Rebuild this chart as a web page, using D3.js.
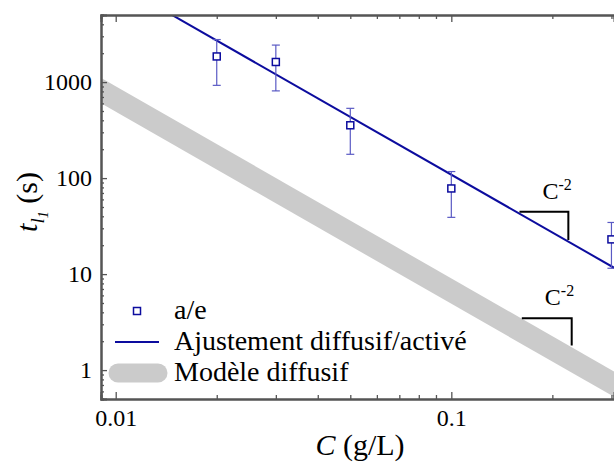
<!DOCTYPE html>
<html>
<head>
<meta charset="utf-8">
<script src="https://cdn.jsdelivr.net/npm/d3@7"></script>
<style>
  html, body { margin: 0; padding: 0; background: #fff; }
  svg { display: block; font-family: "Liberation Serif", "Times New Roman", serif; }
</style>
</head>
<body>
<svg id="chart" width="614" height="469"></svg>
<script>
(function() {
  'use strict';

  // Measured points (a/e)
  const concentrations = [0.02, 0.03, 0.05, 0.1, 0.3];
  const lifetimes = [1850, 1620, 355, 78, 23];
  const lifetimeErrors = [925, 810, 178, 39, 11.5];

  // Fitted line (diffusive/activated) and diffusive model, end points
  const fitC = [0.0147, 0.31];
  const fitT = [5016, 11.3];
  const modelC = [0.0088, 0.32];
  const modelT = [861, 0.65];

  // Slope guides: [C start, C end, t top, t bottom]
  const slopeFit = [0.1596, 0.2232, 44.6, 22.6];
  const slopeModel = [0.1622, 0.2284, 3.46, 1.8];

  const xMajorTicks = [0.01, 0.1];
  const yMajorTicks = [1, 10, 100, 1000];
  const xTickLabels = ['0.01', '0.1'];
  const yTickLabels = ['1', '10', '100', '1000'];

  const legendLabels = ['a/e', 'Ajustement diffusif/activé', 'Modèle diffusif'];

  const blue = '#0c0c9e';
  const errBlue = '#5a5ac4';
  const grey = '#cbcbcb';
  const axisCol = '#555';
  const serif = '"Liberation Serif", "Times New Roman", serif';

  const left = 101, right = 614, top = 15, bottom = 399;

  const svg = d3.select('#chart');

  const x = d3.scaleLog().domain([0.00904, 0.3053]).range([left, right]);
  const y = d3.scaleLog().domain([0.5, 5000]).range([bottom, top]);

  svg.append('defs').append('clipPath')
    .attr('id', 'plot-clip')
    .append('rect')
    .attr('x', left).attr('y', top)
    .attr('width', right - left).attr('height', bottom - top);

  const plot = svg.append('g').attr('clip-path', 'url(#plot-clip)');
  const line = d3.line().x(d => x(d[0])).y(d => y(d[1]));

  // Diffusive model band
  plot.append('path')
    .attr('d', line(d3.zip(modelC, modelT)))
    .attr('fill', 'none')
    .attr('stroke', grey)
    .attr('stroke-width', 22);

  // Fit line
  plot.append('path')
    .attr('d', line(d3.zip(fitC, fitT)))
    .attr('fill', 'none')
    .attr('stroke', blue)
    .attr('stroke-width', 2);

  // Error bars
  const pts = concentrations.map((c, i) => ({ c, t: lifetimes[i], e: lifetimeErrors[i] }));
  const eb = plot.append('g')
    .attr('stroke', errBlue)
    .attr('stroke-width', 1.2)
    .attr('fill', 'none');
  pts.forEach(p => {
    const cx = x(p.c);
    const y1 = y(p.t + p.e), y2 = y(p.t - p.e);
    eb.append('line').attr('x1', cx).attr('x2', cx).attr('y1', y1).attr('y2', y2);
    eb.append('line').attr('x1', cx - 4).attr('x2', cx + 4).attr('y1', y1).attr('y2', y1);
    eb.append('line').attr('x1', cx - 4).attr('x2', cx + 4).attr('y1', y2).attr('y2', y2);
  });

  // Markers
  plot.selectAll('rect.pt')
    .data(pts)
    .enter()
    .append('rect')
    .attr('class', 'pt')
    .attr('x', d => x(d.c) - 3.5)
    .attr('y', d => y(d.t) - 3.5)
    .attr('width', 7).attr('height', 7)
    .attr('fill', '#fff')
    .attr('stroke', blue)
    .attr('stroke-width', 1.5);

  // Slope guides
  function slopeGuide(s) {
    const x1 = x(s[0]), x2 = x(s[1]), yt = y(s[2]), yb = y(s[3]);
    svg.append('path')
      .attr('d', `M${x1},${yt}H${x2}V${yb}`)
      .attr('fill', 'none')
      .attr('stroke', '#000')
      .attr('stroke-width', 2);
    const t = svg.append('text')
      .attr('x', x1 + 23)
      .attr('y', yt - 13)
      .attr('font-size', 24);
    t.append('tspan').text('C');
    t.append('tspan').attr('font-size', 16).attr('dy', -9).text('-2');
  }
  slopeGuide(slopeFit);
  slopeGuide(slopeModel);

  // Axes
  const yMinor = y.ticks().filter(v => !yMajorTicks.includes(v));
  const xMinor = x.ticks().filter(v => !xMajorTicks.includes(v));

  function styleAxis(g) {
    g.attr('font-family', serif);
    g.select('.domain').attr('stroke', axisCol).attr('stroke-width', 2);
    g.selectAll('.tick line').attr('stroke', axisCol).attr('stroke-width', 1.3);
    g.selectAll('.tick text')
      .attr('fill', '#000')
      .attr('font-size', 24)
      .attr('font-family', serif);
  }

  svg.append('g')
    .attr('transform', `translate(${left},0)`)
    .call(d3.axisLeft(y).tickValues(yMinor).tickSize(-3).tickFormat(''))
    .call(styleAxis);
  svg.append('g')
    .attr('transform', `translate(${left},0)`)
    .call(d3.axisLeft(y).tickValues(yMajorTicks).tickSize(-6).tickPadding(9)
      .tickFormat((d, i) => yTickLabels[i]))
    .call(styleAxis);

  svg.append('g')
    .attr('transform', `translate(0,${bottom})`)
    .call(d3.axisBottom(x).tickValues(xMinor).tickSize(-4).tickFormat(''))
    .call(styleAxis);
  svg.append('g')
    .attr('transform', `translate(0,${bottom})`)
    .call(d3.axisBottom(x).tickValues(xMajorTicks).tickSize(-7).tickPadding(10)
      .tickFormat((d, i) => xTickLabels[i]))
    .call(styleAxis);

  svg.append('g')
    .attr('transform', `translate(0,${top})`)
    .call(d3.axisTop(x).tickValues(xMinor).tickSize(-4).tickFormat(''))
    .call(styleAxis);
  svg.append('g')
    .attr('transform', `translate(0,${top})`)
    .call(d3.axisTop(x).tickValues(xMajorTicks).tickSize(-7).tickFormat(''))
    .call(styleAxis);

  // Axis titles
  const xt = svg.append('text')
    .attr('x', 360)
    .attr('y', 455)
    .attr('text-anchor', 'middle')
    .attr('font-size', 30);
  xt.append('tspan').attr('font-style', 'italic').text('C');
  xt.append('tspan').text(' (g/L)');

  const yt = svg.append('text')
    .attr('transform', 'translate(37,202) rotate(-90)')
    .attr('text-anchor', 'middle')
    .attr('font-size', 30);
  yt.append('tspan').attr('font-style', 'italic').text('t');
  yt.append('tspan').attr('font-style', 'italic').attr('font-size', 19).attr('dy', 7).text('l');
  yt.append('tspan').attr('font-style', 'italic').attr('font-size', 14).attr('dy', 4).text('1');
  yt.append('tspan').attr('dy', -11).text(' (s)');

  // Legend
  const legend = svg.append('g');
  const rows = [311, 342, 373];
  legend.append('rect')
    .attr('x', 133.5).attr('y', rows[0] - 3.5)
    .attr('width', 7).attr('height', 7)
    .attr('fill', '#fff').attr('stroke', blue).attr('stroke-width', 1.5);
  legend.append('line')
    .attr('x1', 115).attr('x2', 159).attr('y1', rows[1]).attr('y2', rows[1])
    .attr('stroke', blue).attr('stroke-width', 2);
  legend.append('line')
    .attr('x1', 118).attr('x2', 158).attr('y1', rows[2]).attr('y2', rows[2])
    .attr('stroke', grey).attr('stroke-width', 19).attr('stroke-linecap', 'round');
  legend.selectAll('text.lab')
    .data(legendLabels)
    .enter()
    .append('text')
    .attr('class', 'lab')
    .attr('x', 174)
    .attr('y', (d, i) => rows[i] + 8)
    .attr('font-size', 28)
    .text(d => d);
})();
</script>
</body>
</html>
